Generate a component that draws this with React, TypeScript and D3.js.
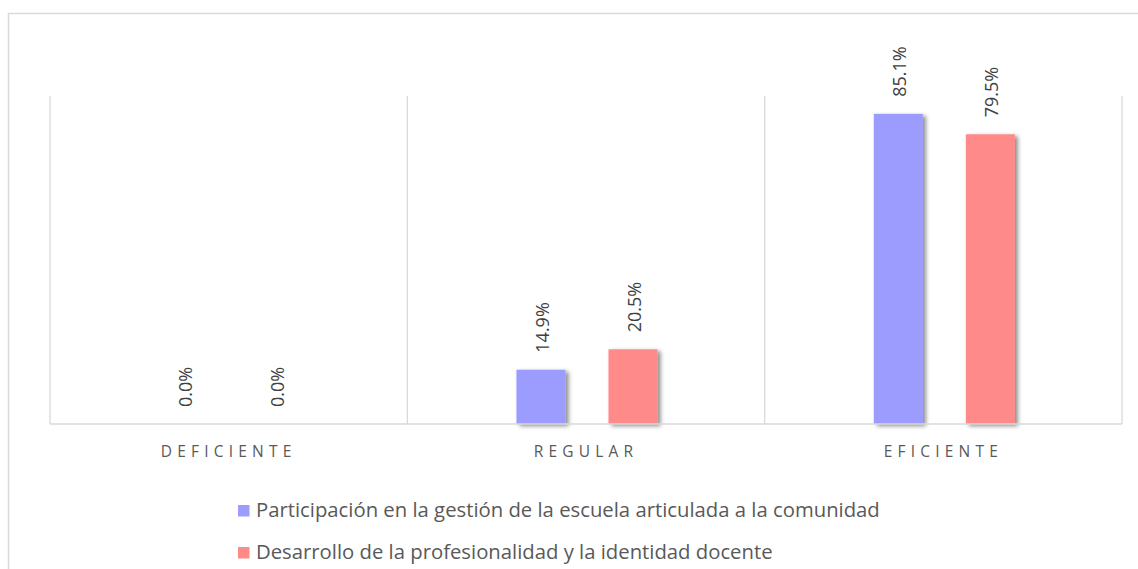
import React from "react";
import * as d3 from "d3";

const categories = ["DEFICIENTE", "REGULAR", "EFICIENTE"];
const seriesNames = [
  "Participación en la gestión de la escuela articulada a la comunidad",
  "Desarrollo de la profesionalidad y la identidad docente",
];
const seriesA = [0.0, 14.9, 85.1];
const seriesB = [0.0, 20.5, 79.5];
const colors = ["#9c9cff", "#ff8a8a"];

const W = 1138;
const H = 569;
const plot = { left: 50, right: 1122, top: 96, bottom: 424 };
const font = "'Open Sans', sans-serif";

export default function App() {
  const x0 = d3.scaleBand<string>().domain(categories).range([plot.left, plot.right]);
  const x1 = d3
    .scaleBand<number>()
    .domain([0, 1])
    .range([0, x0.bandwidth()])
    .paddingInner(0.467)
    .paddingOuter(1.175);
  const y = d3.scaleLinear().domain([0, 90]).range([plot.bottom, plot.top]);
  const series = [seriesA, seriesB];
  const gridXs = [plot.left, ...categories.map((c) => (x0(c) as number) + x0.bandwidth())];

  return (
    <svg width={W} height={H} style={{ position: "absolute", left: 0, top: 0, background: "#fff" }}>
      <defs>
        <filter id="sh" x="-30%" y="-30%" width="160%" height="160%">
          <feDropShadow dx="3" dy="2" stdDeviation="2" floodColor="#000" floodOpacity="0.45" />
        </filter>
      </defs>
      <path d={`M8.5,${H} L8.5,13.5 L${W},13.5`} fill="none" stroke="#d9d9d9" strokeWidth={1.5} />
      {gridXs.map((gx, i) => (
        <line key={i} x1={gx} x2={gx} y1={plot.top} y2={plot.bottom} stroke="#d9d9d9" strokeWidth={1.3} />
      ))}
      {categories.map((c, ci) => (
        <g key={c}>
          {series.map((s, si) => {
            const v = s[ci];
            const bx = (x0(c) as number) + (x1(si) as number) + 1;
            const bw = x1.bandwidth();
            const top = y(v);
            const cx = bx + bw / 2;
            const ly = top - 17;
            return (
              <g key={si}>
                {v > 0 && (
                  <rect x={bx} y={top} width={bw} height={plot.bottom - top} fill={colors[si]} filter="url(#sh)" />
                )}
                <text
                  transform={`translate(${cx + 8},${ly}) rotate(-90)`}
                  fontFamily={font}
                  fontSize={18}
                  fill="#404040"
                >
                  {v.toFixed(1) + "%"}
                </text>
              </g>
            );
          })}
        </g>
      ))}
      <line x1={plot.left} x2={plot.right} y1={plot.bottom} y2={plot.bottom} stroke="#d9d9d9" strokeWidth={1.5} />
      {categories.map((c) => (
        <text
          key={c}
          x={(x0(c) as number) + x0.bandwidth() / 2}
          y={457}
          textAnchor="middle"
          fontFamily={font}
          fontSize={15.5}
          letterSpacing={5.2}
          fill="#595959"
        >
          {c}
        </text>
      ))}
      {seriesNames.map((n, i) => (
        <g key={n} transform={`translate(238,${505 + i * 42})`}>
          <rect x={0} y={0} width={11.5} height={11.5} fill={colors[i]} />
          <text x={18} y={11.5} fontFamily={font} fontSize={20.3} fill="#595959">
            {n}
          </text>
        </g>
      ))}
    </svg>
  );
}
